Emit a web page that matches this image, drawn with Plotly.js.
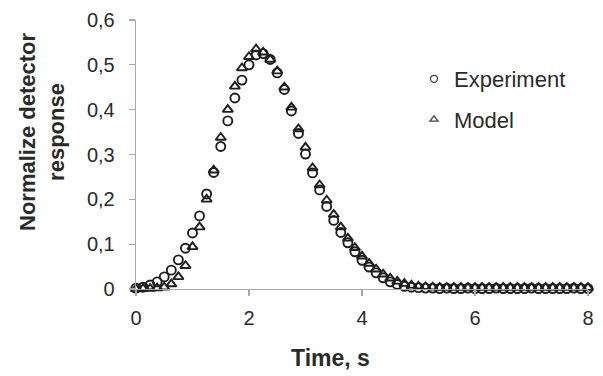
<!DOCTYPE html>
<html>
<head>
<meta charset="utf-8">
<script src="https://cdn.plot.ly/plotly-3.0.1.min.js"></script>
<style>html,body{margin:0;padding:0;background:#fff;}#chart{width:603px;height:376px;}</style>
</head>
<body>
<div id="chart"></div>
<script>
var timeS = [0,0.125,0.25,0.375,0.5,0.625,0.75,0.875,1,1.125,1.25,1.375,1.5,1.625,1.75,1.875,2,2.125,2.25,2.375,2.5,2.625,2.75,2.875,3,3.125,3.25,3.375,3.5,3.625,3.75,3.875,4,4.125,4.25,4.375,4.5,4.625,4.75,4.875,5,5.125,5.25,5.375,5.5,5.625,5.75,5.875,6,6.125,6.25,6.375,6.5,6.625,6.75,6.875,7,7.125,7.25,7.375,7.5,7.625,7.75,7.875,8];
var experiment = [0.002,0.004,0.009,0.016,0.027,0.042,0.065,0.091,0.125,0.163,0.212,0.26,0.318,0.375,0.426,0.466,0.5,0.522,0.525,0.512,0.482,0.445,0.397,0.347,0.301,0.259,0.221,0.184,0.153,0.126,0.103,0.083,0.064,0.049,0.036,0.025,0.016,0.01,0.006,0.004,0.003,0.002,0.002,0.001,0.002,0.001,0.001,0.002,0.001,0.001,0.001,0.002,0.001,0.001,0.001,0.001,0.002,0.001,0.001,0.001,0.001,0.001,0.002,0.001,0.001];
var model = [0.000,0.001,0.001,0.002,0.004,0.011,0.027,0.052,0.094,0.138,0.2,0.265,0.338,0.4,0.452,0.493,0.518,0.535,0.528,0.512,0.486,0.45,0.405,0.357,0.316,0.27,0.232,0.198,0.166,0.138,0.113,0.092,0.073,0.057,0.044,0.033,0.024,0.017,0.012,0.008,0.006,0.005,0.004,0.003,0.003,0.003,0.003,0.003,0.003,0.003,0.003,0.003,0.003,0.003,0.003,0.003,0.003,0.003,0.003,0.003,0.003,0.003,0.003,0.003,0.003];
var seriesNames = ['Experiment', 'Model'];
var xTicks = [0, 2, 4, 6, 8];
var yTicks = [0, 0.1, 0.2, 0.3, 0.4, 0.5, 0.6];

var ink = '#1e1e1e';
var traces = [
  {x: timeS, y: experiment, type: 'scatter', mode: 'markers', name: seriesNames[0], showlegend: false, cliponaxis: false,
   marker: {symbol: 'circle-open', size: 9, color: ink, line: {width: 1.9, color: ink}}},
  {x: timeS, y: model, type: 'scatter', mode: 'markers', name: seriesNames[1], showlegend: false, cliponaxis: false,
   marker: {symbol: 'triangle-up-open', size: 9, color: ink, line: {width: 1.9, color: ink}}},
  {x: [null], y: [null], type: 'scatter', mode: 'markers', name: seriesNames[0], legendgroup: 'a',
   marker: {symbol: 'circle-open', size: 7, color: '#444', line: {width: 1.3, color: '#444'}}},
  {x: [null], y: [null], type: 'scatter', mode: 'markers', name: seriesNames[1], legendgroup: 'b',
   marker: {symbol: 'triangle-up-open', size: 7, color: '#444', line: {width: 1.3, color: '#444'}}}
];

var layout = {
  width: 603, height: 376,
  margin: {l: 136, r: 15, t: 20, b: 87},
  paper_bgcolor: '#fff', plot_bgcolor: '#fff',
  separators: ', ',
  font: {family: 'Liberation Sans, Arial, sans-serif', color: '#2a2a2a', size: 20},
  showlegend: true,
  legend: {x: (414 - 136) / 452, y: (289 - 58) / 269, xanchor: 'left', yanchor: 'top',
           bgcolor: 'rgba(0,0,0,0)', font: {size: 22, color: '#2a2a2a'},
           traceorder: 'grouped', tracegroupgap: 9},
  xaxis: {range: [0, 8], tickvals: xTicks, showgrid: false, zeroline: false,
          showline: true, linecolor: '#a8a8a8', linewidth: 1.3,
          ticks: 'outside', ticklen: 6, tickcolor: '#a8a8a8', tickwidth: 1.3,
          tickfont: {size: 20, color: '#2a2a2a'}, ticklabelstandoff: 5},
  yaxis: {range: [0, 0.6], tickvals: yTicks, showgrid: false, zeroline: false,
          showline: true, linecolor: '#a8a8a8', linewidth: 1.3,
          ticks: 'outside', ticklen: 6, tickcolor: '#a8a8a8', tickwidth: 1.3,
          tickfont: {size: 20, color: '#2a2a2a'}, ticklabelstandoff: 10},
  annotations: [{
    xref: 'paper', yref: 'paper', x: (42 - 136) / 452, y: (289 - 132) / 269,
    xanchor: 'center', yanchor: 'middle', textangle: -90, showarrow: false,
    text: '<b>Normalize detector<br>response</b>', font: {size: 22, color: '#2a2a2a'}
  }, {
    xref: 'paper', yref: 'paper', x: (330 - 136) / 452, y: (289 - 358) / 269,
    xanchor: 'center', yanchor: 'middle', showarrow: false,
    text: '<b>Time, s</b>', font: {size: 23, color: '#2a2a2a'}
  }]
};

Plotly.newPlot('chart', traces, layout, {staticPlot: true, displayModeBar: false});
</script>
</body>
</html>
